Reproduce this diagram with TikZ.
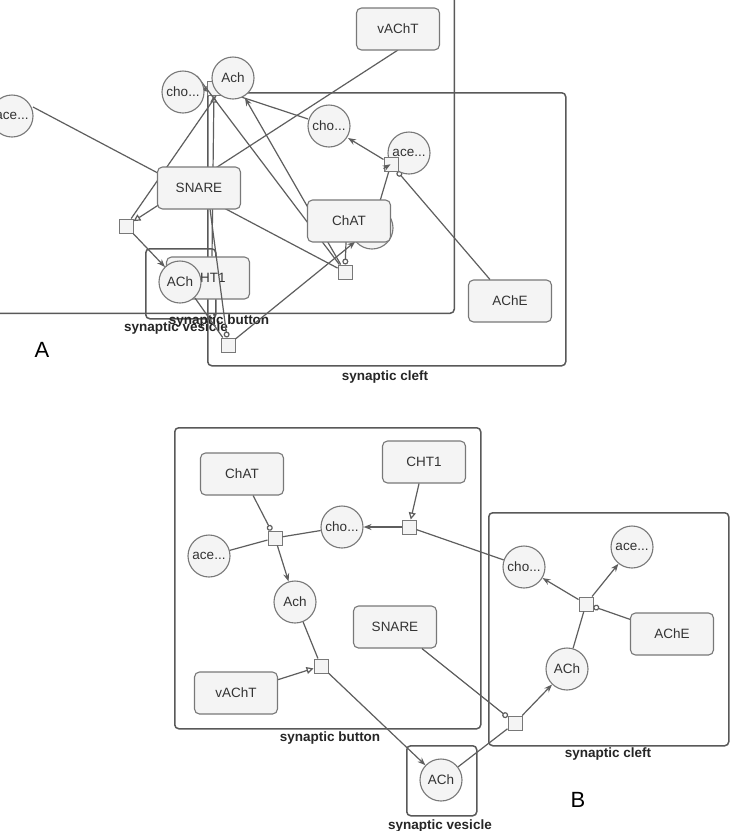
\documentclass[tikz,border=0pt]{standalone}
\usepackage{fontspec}
\setmainfont{Liberation Sans}
\usetikzlibrary{arrows.meta}
\definecolor{edgec}{HTML}{5E5E5E}
\definecolor{nodeb}{HTML}{787878}
\definecolor{nodef}{HTML}{F4F4F4}
\definecolor{boxc}{HTML}{595959}
\definecolor{txt}{HTML}{333333}
\begin{document}
\begin{tikzpicture}[x=1pt,y=-1pt,
  species/.style={circle,draw=nodeb,fill=nodef,line width=1.1pt,minimum size=42pt,inner sep=0pt,font=\fontsize{13.5}{15}\selectfont,text=txt},
  gene/.style={rectangle,rounded corners=5pt,draw=nodeb,fill=nodef,line width=1.1pt,minimum width=83pt,minimum height=42pt,inner sep=0pt,font=\fontsize{13.5}{15}\selectfont,text=txt},
  proc/.style={rectangle,draw=nodeb,fill=nodef,line width=1pt,minimum size=14pt,inner sep=0pt},
  comp/.style={draw=boxc,rounded corners=4pt,line width=1.5pt,inner sep=0pt},
  clabel/.style={font=\bfseries\fontsize{13.5}{15}\selectfont,text=black!85},
  biglabel/.style={font=\fontsize{22}{24}\selectfont,text=black},
  link/.style={draw=edgec,line width=1.2pt},
  prod/.style={link,-{Stealth[length=8pt,width=6pt]}},
  stim/.style={link,-{Triangle[open,length=7pt,width=7pt]}},
  cata/.style={link,-{Circle[open,length=6pt]}},
]
\useasboundingbox (0,0) rectangle (738,831);
\clip (0,0) rectangle (738,831);
\fill[white] (0,0) rectangle (738,831);

% ================= Part A =================
% compartments
\node[comp,minimum width=485pt,minimum height=344pt,anchor=south east] (buttonA) at (455,314) {};
\node[comp,minimum width=358pt,minimum height=273pt,anchor=north west] (cleftA) at (207,92) {};
\node[comp,minimum width=70pt,minimum height=70pt,anchor=north west] (vesA) at (145,248) {};
\node[clabel] (lbtnA) at (219,321) {synaptic button};
\node[clabel] (lvesA) at (176,328) {synaptic vesicle};
\node[clabel] (lcleftA) at (385,377) {synaptic cleft};
\node[biglabel] (labA) at (42,350) {A};

% node drawn before edges (edges visible over it)
\node[gene] (CHT1A) at (208,278) {CHT1};

% hidden nodes and process squares
\node[proc] (sq4) at (214,88) {};
\node[species] (AChCA) at (372,228) {};
\node[proc] (sq1) at (126,226) {};
\node[proc] (sq2) at (345,272) {};
\node[proc] (sq3) at (228,345) {};
\node[proc] (sqEA) at (391,164) {};

% positions of nodes drawn later
\coordinate (aceLc) at (12,116);
\coordinate (choAc) at (183,92);
\coordinate (AchAc) at (233,78);
\coordinate (cho2Ac) at (329,126);
\coordinate (ace2Ac) at (409,153);

% edges passing behind boxes
\draw[link] (aceLc) ++(21pt,9pt) coordinate (aceLe) -- (sq2);
\draw[stim] (398,50) coordinate (vAChTe) -- (sq1);
\draw[cata] (210,209) coordinate (SNAREe) -- (sq3);
\draw[stim] (CHT1A.north) ++(4pt,0) coordinate (CHT1e) -- (sq4);

% other edges
\draw[link] (choAc) ++(14pt,16pt) coordinate (choAe) -- (sq2);
\draw[prod] (sq2) -- (245,98) coordinate (AchAe);
\draw[cata] (346,242) coordinate (ChATe) -- (sq2);
\draw[link] (216,96) coordinate (AchAe2) -- (sq1);
\draw[prod] (sq1) -- (165,267) coordinate (AChVe);
\draw[link] (195,298) coordinate (AChVe2) -- (sq3);
\draw[prod] (sq3) -- (AChCA);
\draw[link] (AChCA) -- (sqEA);
\draw[prod] (sqEA) -- (348,138) coordinate (cho2Ae);
\draw[link] (308,119) coordinate (cho2Ae2) -- (sq4);
\draw[prod] (sq4) -- (200,90) coordinate (choAe2);

% species / genes A
\node[gene] (SNAREA) at (199,188) {SNARE};
\node[gene] (ChATA) at (349,221) {ChAT};
\node[gene] (vAChTA) at (398,29) {vAChT};
\node[gene] (AChEA) at (510,301) {AChE};
\draw[cata] (AChEA.north west) ++(22pt,0) -- (sqEA);
\node[species] (AChVA) at (180,282) {ACh};
\node[species] (aceLA) at (aceLc) {ace...};
\node[species] (choA) at (choAc) {cho...};
\node[species] (AchA) at (AchAc) {Ach};
\node[species] (cho2A) at (cho2Ac) {cho...};
\node[species] (ace2A) at (ace2Ac) {ace...};
\node[proc] (sqEAtop) at (391,164) {};
\draw[prod] (sqEAtop) -- (ace2A);

% ================= Part B =================
\node[comp,minimum width=306pt,minimum height=301pt,anchor=north west] (buttonB) at (174,427) {};
\node[comp,minimum width=240pt,minimum height=233pt,anchor=north west] (cleftB) at (488,512) {};
\node[comp,minimum width=70pt,minimum height=70pt,anchor=north west] (vesB) at (406,745) {};
\node[clabel] (lbtnB) at (330,738) {synaptic button};
\node[clabel] (lcleftB) at (608,754) {synaptic cleft};
\node[clabel] (lvesB) at (440,826) {synaptic vesicle};
\node[biglabel] (labB) at (578,800) {B};

\node[gene] (ChATB) at (242,474) {ChAT};
\node[gene] (CHT1B) at (424,462) {CHT1};
\node[species] (choB) at (342,527) {cho...};
\node[species] (aceB) at (209,556) {ace...};
\node[proc] (sqChB) at (275,538) {};
\node[proc] (sqCHB) at (409,527) {};
\node[species] (AchB) at (295,602) {Ach};
\node[gene] (SNAREB) at (395,627) {SNARE};
\node[gene] (vAChTB) at (236,693) {vAChT};
\node[proc] (sqvB) at (321,666) {};
\node[species] (AChVB) at (441,780) {ACh};
\node[species] (choCB) at (524,567) {cho...};
\node[species] (aceCB) at (632,547) {ace...};
\node[proc] (sqEB) at (586,604) {};
\node[gene] (AChEB) at (672,634) {AChE};
\node[species] (AChCB) at (567,669) {ACh};
\node[proc] (sqSB) at (515,723) {};

\draw[cata] (ChATB) -- (sqChB);
\draw[link] (aceB) -- (sqChB);
\draw[link] (choB) -- (sqChB);
\draw[prod] (sqChB) -- (AchB);
\draw[stim] (CHT1B) -- (sqCHB);
\draw[prod] (sqCHB) -- (choB);
\draw[link] (choCB) -- (sqCHB);
\draw[link] (AchB) -- (sqvB);
\draw[stim] (vAChTB) -- (sqvB);
\draw[prod] (sqvB) -- (AChVB);
\draw[link] (AChVB) -- (sqSB);
\draw[cata] (SNAREB) -- (sqSB);
\draw[prod] (sqSB) -- (AChCB);
\draw[link] (AChCB) -- (sqEB);
\draw[prod] (sqEB) -- (choCB);
\draw[prod] (sqEB) -- (aceCB);
\draw[cata] (AChEB) -- (sqEB);
\end{tikzpicture}
\end{document}
